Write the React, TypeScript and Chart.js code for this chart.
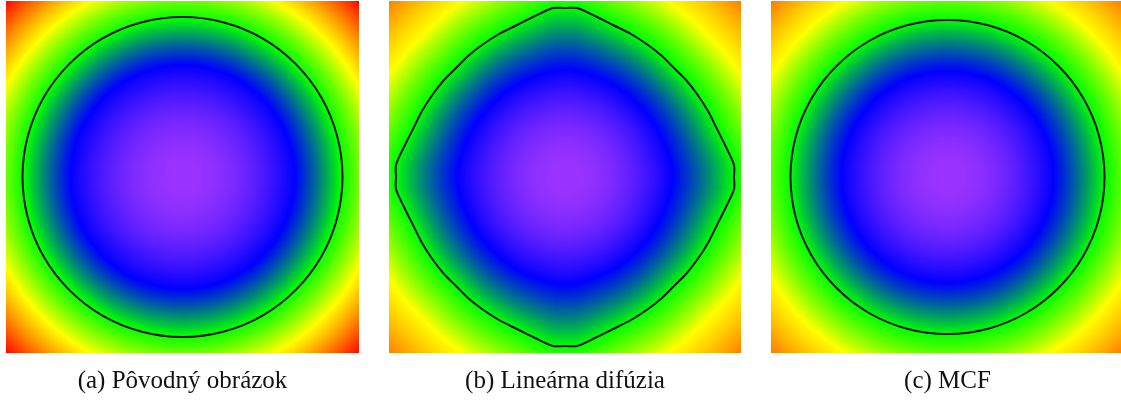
import React, { useEffect, useRef } from "react";
import { Chart, registerables } from "chart.js";

Chart.register(...registerables);

// ---------------- data ----------------
const captions = ["(a) Pôvodný obrázok", "(b) Lineárna difúzia", "(c) MCF"];

// colour stops of the colormap: purple, blue, green, yellow, red
const stopColors = [
  [155, 51, 255],
  [0, 0, 255],
  [0, 255, 0],
  [255, 255, 0],
  [255, 0, 0],
];
// field level at which each colour stop occurs, per panel
const stopLevelsA = [0, 112, 158, 198, 250];
const stopLevelsB = [0, 105, 160, 208, 300];
const stopLevelsC = [0, 106, 157, 203, 285];

// field centre (data units = image pixels of each panel)
const centerA = [176.5, 176];
const centerB = [176, 176];
const centerC = [176.5, 176];

// level of the drawn contour
const contourLevelA = 160;
const contourLevelB = 160;
const contourLevelC = 157;

// contour (a)
const contourAx = [336.5, 331, 315.1, 289.6, 256.5, 217.9, 176.5, 135.1, 96.5, 63.4, 37.9, 22, 16.5, 22, 37.9, 63.4, 96.5, 135.1, 176.5, 217.9, 256.5, 289.6, 315.1, 331, 336.5];
const contourAy = [176, 217.4, 256, 289.1, 314.6, 330.5, 336, 330.5, 314.6, 289.1, 256, 217.4, 176, 134.6, 96, 62.9, 37.4, 21.5, 16, 21.5, 37.4, 62.9, 96, 134.6, 176];

// contour (b)
const contourBx = [
  176, 188, 206, 224, 242, 259, 273, 285, 297, 308, 319, 328, 337, 345, 345,
  345, 337, 328, 319, 308, 297, 285, 273, 259, 242, 224, 206, 188, 176,
  164, 146, 128, 110, 93, 79, 67, 55, 44, 33, 24, 15, 7, 7,
  7, 15, 24, 33, 44, 55, 67, 79, 93, 110, 128, 146, 164, 176,
];
const contourBy = [
  7, 7, 15, 24, 33, 44, 55, 67, 79, 93, 110, 128, 146, 164, 176,
  188, 206, 224, 242, 259, 273, 285, 297, 308, 319, 328, 337, 345, 345,
  345, 337, 328, 319, 308, 297, 285, 273, 259, 242, 224, 206, 188, 176,
  164, 146, 128, 110, 93, 79, 67, 55, 44, 33, 24, 15, 7, 7,
];

// contour (c)
const contourCx = [333.5, 328.2, 312.5, 287.5, 255, 217.1, 176.5, 135.9, 98, 65.5, 40.5, 24.8, 19.5, 24.8, 40.5, 65.5, 98, 135.9, 176.5, 217.1, 255, 287.5, 312.5, 328.2, 333.5];
const contourCy = [176, 216.6, 254.5, 287, 312, 327.7, 333, 327.7, 312, 287, 254.5, 216.6, 176, 135.4, 97.5, 65, 40, 24.3, 19, 24.3, 40, 65, 97.5, 135.4, 176];

// ---------------- layout ----------------
const panelLeft = [6, 389, 771];
const panelWidth = [353, 352, 353];
const panelHeight = 352;
const canvasHeight = 403;

const panels = [
  { caption: captions[0], levels: stopLevelsA, center: centerA, level: contourLevelA, cx: contourAx, cy: contourAy, tension: 0.34 },
  { caption: captions[1], levels: stopLevelsB, center: centerB, level: contourLevelB, cx: contourBx, cy: contourBy, tension: 0.3 },
  { caption: captions[2], levels: stopLevelsC, center: centerC, level: contourLevelC, cx: contourCx, cy: contourCy, tension: 0.34 },
];

function buildRadiusTable(cx: number[], cy: number[], center: number[], bins: number) {
  const pts = cx.map((x, i) => {
    const dx = x - center[0];
    const dy = cy[i] - center[1];
    return { a: Math.atan2(dy, dx), r: Math.hypot(dx, dy) };
  });
  pts.sort((p, q) => p.a - q.a);
  const ext = [
    { a: pts[pts.length - 1].a - 2 * Math.PI, r: pts[pts.length - 1].r },
    ...pts,
    { a: pts[0].a + 2 * Math.PI, r: pts[0].r },
  ];
  const table = new Float64Array(bins);
  for (let b = 0; b < bins; b++) {
    const ang = -Math.PI + ((b + 0.5) / bins) * 2 * Math.PI;
    let k = 0;
    while (k < ext.length - 2 && ext[k + 1].a < ang) k++;
    const p = ext[k], q = ext[k + 1];
    const t = q.a - p.a > 1e-9 ? (ang - p.a) / (q.a - p.a) : 0;
    table[b] = p.r + (q.r - p.r) * Math.min(1, Math.max(0, t));
  }
  return table;
}

function makeFieldPlugin(p: any) {
  const bins = 1440;
  const table = buildRadiusTable(p.cx, p.cy, p.center, bins);
  const levels: number[] = p.levels;
  return {
    id: "fieldImage",
    beforeDatasetsDraw(chart: any) {
      const { left, top, right, bottom } = chart.chartArea;
      const w = Math.round(right - left);
      const h = Math.round(bottom - top);
      const xs = chart.scales.x;
      const ys = chart.scales.y;
      const off = document.createElement("canvas");
      off.width = w;
      off.height = h;
      const octx = off.getContext("2d")!;
      const img = octx.createImageData(w, h);
      const d = img.data;
      const xv = new Float64Array(w);
      for (let i = 0; i < w; i++) xv[i] = xs.getValueForPixel(left + i + 0.5) - p.center[0];
      for (let j = 0; j < h; j++) {
        const dy = ys.getValueForPixel(top + j + 0.5) - p.center[1];
        for (let i = 0; i < w; i++) {
          const dx = xv[i];
          const r = Math.hypot(dx, dy);
          let b = Math.floor(((Math.atan2(dy, dx) + Math.PI) / (2 * Math.PI)) * bins);
          if (b >= bins) b = bins - 1;
          if (b < 0) b = 0;
          const R = table[b];
          const s = Math.min(1, r / R);
          const v = r * (1 + (p.level / R - 1) * s * s);
          let c0 = stopColors[stopColors.length - 1], c1 = c0, t = 0;
          for (let k = 0; k < levels.length - 1; k++) {
            if (v < levels[k + 1]) {
              const a = levels[k], bb = levels[k + 1];
              t = (v * v - a * a) / (bb * bb - a * a);
              c0 = stopColors[k];
              c1 = stopColors[k + 1];
              break;
            }
          }
          const o = (j * w + i) * 4;
          d[o] = c0[0] + (c1[0] - c0[0]) * t;
          d[o + 1] = c0[1] + (c1[1] - c0[1]) * t;
          d[o + 2] = c0[2] + (c1[2] - c0[2]) * t;
          d[o + 3] = 255;
        }
      }
      octx.putImageData(img, 0, 0);
      chart.ctx.drawImage(off, left, top);
    },
  };
}

// closed contour: wrap one point on each side so the spline is smooth everywhere,
// and hide the two wrap segments
function closedLoop(cx: number[], cy: number[]) {
  const pts = cx.slice(0, cx.length - 1).map((x, i) => ({ x, y: cy[i] }));
  const n = pts.length;
  return [pts[n - 1], ...pts, pts[0], pts[1]];
}

function Panel({ idx }: { idx: number }) {
  const ref = useRef<HTMLCanvasElement>(null);
  useEffect(() => {
    const p = panels[idx];
    const loop = closedLoop(p.cx, p.cy);
    const lastSeg = loop.length - 2;
    const chart = new Chart(ref.current as HTMLCanvasElement, {
      type: "scatter",
      data: {
        datasets: [
          {
            data: loop,
            showLine: true,
            pointRadius: 0,
            borderColor: "#111111",
            borderWidth: 2,
            tension: p.tension,
            fill: false,
            segment: {
              borderColor: (ctx: any) =>
                ctx.p0DataIndex === 0 || ctx.p0DataIndex === lastSeg ? "rgba(0,0,0,0)" : "#111111",
            },
          } as any,
        ],
      },
      options: {
        responsive: false,
        maintainAspectRatio: false,
        devicePixelRatio: 1,
        animation: false,
        events: [],
        layout: { padding: { top: 1, bottom: 7, left: 0, right: 0 } },
        scales: {
          x: { type: "linear", min: 0, max: panelWidth[idx], display: false },
          y: { type: "linear", min: 0, max: panelHeight, reverse: true, display: false },
        },
        plugins: {
          legend: { display: false },
          tooltip: { enabled: false },
          title: {
            display: true,
            text: p.caption,
            position: "bottom",
            color: "#111111",
            font: { family: "'Liberation Serif', serif", size: 25, weight: "normal", lineHeight: 1.2 },
            padding: { top: 13, bottom: 0 },
          },
        },
      },
      plugins: [makeFieldPlugin(p)],
    });
    return () => chart.destroy();
  }, [idx]);
  return (
    <div style={{ position: "absolute", left: panelLeft[idx], top: 0, width: panelWidth[idx], height: canvasHeight }}>
      <canvas ref={ref} width={panelWidth[idx]} height={canvasHeight} style={{ display: "block" }} />
    </div>
  );
}

export default function App() {
  return (
    <div style={{ position: "absolute", left: 0, top: 0, width: 1121, height: 403, overflow: "hidden", background: "#ffffff" }}>
      <Panel idx={0} />
      <Panel idx={1} />
      <Panel idx={2} />
    </div>
  );
}
